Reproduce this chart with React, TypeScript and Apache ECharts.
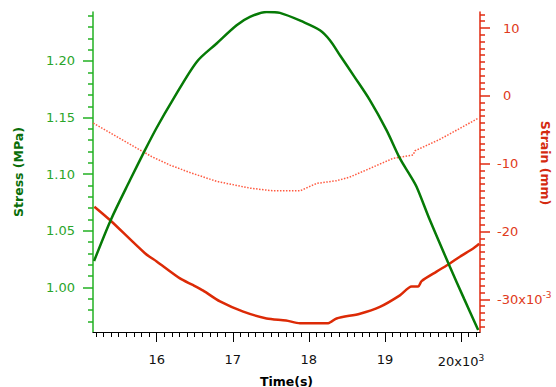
import React, { useEffect, useRef } from 'react';
import * as echarts from 'echarts';

// Stress (green, left axis)
const stressTime = [15177, 15400, 15650, 15846, 16000, 16210, 16526, 16788, 17051, 17226, 17445, 17620, 17926, 18146, 18277, 18409, 18600, 18802, 19021, 19197, 19329, 19416, 19591, 19854, 20040, 20226];
const stressMPa = [1.0232, 1.060, 1.0948, 1.1212, 1.141, 1.1654, 1.1992, 1.2155, 1.2316, 1.239, 1.2434, 1.2425, 1.2345, 1.2272, 1.2184, 1.2051, 1.1860, 1.1654, 1.1389, 1.1139, 1.0992, 1.0888, 1.0594, 1.0182, 0.990, 0.9623];

// Strain solid (red, right axis, x10^-3 mm)
const strainTime = [15181, 15386, 15846, 16000, 16306, 16481, 16612, 16832, 17138, 17445, 17700, 17883, 18255, 18365, 18672, 18934, 19197, 19351, 19438, 19482, 19679, 19854, 19985, 20160, 20239];
const strainMm = [-16.33, -18.3, -23.2, -24.4, -26.9, -27.9, -28.7, -30.3, -31.8, -32.8, -33.1, -33.5, -33.5, -32.8, -32.1, -31.1, -29.4, -28.1, -28.1, -27.3, -25.9, -24.7, -23.7, -22.5, -21.8];

// Strain dotted (light red, right axis, x10^-3 mm)
const strain2Time = [15167, 15934, 16175, 16438, 16788, 17226, 17532, 17883, 18102, 18365, 18531, 18760, 19109, 19372, 19394, 19723, 19985, 20226];
const strain2Mm = [-4.03, -8.95, -10.2, -11.3, -12.6, -13.6, -14.0, -14.0, -12.9, -12.5, -12.0, -10.9, -9.2, -8.7, -8.1, -6.4, -4.8, -3.3];

const timeTicks = [16000, 17000, 18000, 19000, 20000];
const stressTicks = [1.0, 1.05, 1.1, 1.15, 1.2];
const strainTicks = [-30, -20, -10, 0, 10];

const zip = (a: number[], b: number[]) => a.map((v, i) => [v, b[i]]);

const FONT = 'DejaVu Sans';
const GREEN_AX = '#22b022';
const GREEN_LINE = '#067a06';
const GREEN_TITLE = '#0a6e0a';
const RED_AX = '#e02a10';
const RED_LINE = '#dc2a06';

export default function App() {
  const ref = useRef<HTMLDivElement>(null);
  useEffect(() => {
    const chart = echarts.init(ref.current!, null, { renderer: 'svg' });
    chart.setOption({
      animation: false,
      backgroundColor: '#ffffff',
      textStyle: { fontFamily: FONT },
      grid: { left: 93, right: 76, top: 12, bottom: 55, containLabel: false, outerBoundsMode: 'none' },
      xAxis: {
        type: 'value',
        min: 15163,
        max: 20250,
        splitNumber: 5,
        name: 'Time(s)',
        nameLocation: 'middle',
        nameGap: 49,
        nameMoveOverlap: false,
        nameTextStyle: { color: '#000', fontWeight: 'bold', fontSize: 12.5, fontFamily: FONT, align: 'center', verticalAlign: 'middle' },
        axisLine: { show: true, onZero: false, lineStyle: { color: '#000', width: 1 } },
        axisTick: { show: true, inside: false, length: 10, customValues: timeTicks, lineStyle: { color: '#000' } },
        minorTick: { show: true, splitNumber: 10, length: 5, lineStyle: { color: '#000' } },
        splitLine: { show: false },
        axisLabel: {
          customValues: timeTicks,
          margin: 21,
          color: '#111',
          fontSize: 13,
          fontFamily: FONT,
          formatter: (v: number) => (v === 20000 ? '{n|20x10}{sup|3}' : '{n|' + v / 1000 + '}'),
          rich: {
            n: { fontSize: 13, fontFamily: FONT, color: '#111' },
            sup: { fontSize: 9, fontFamily: FONT, color: '#111', padding: [0, 0, 8, 0] },
          },
        },
      },
      yAxis: [
        {
          type: 'value',
          position: 'left',
          min: 0.9605,
          max: 1.2433,
          splitNumber: 5,
          name: 'Stress (MPa)',
          nameLocation: 'middle',
          nameGap: 75,
          nameRotate: 90,
          nameMoveOverlap: false,
          nameTextStyle: { color: GREEN_TITLE, fontWeight: 'bold', fontSize: 12.5, fontFamily: FONT, align: 'center', verticalAlign: 'middle' },
          axisLine: { show: true, onZero: false, lineStyle: { color: GREEN_AX, width: 1.5 } },
          axisTick: { show: true, inside: false, length: 10, customValues: stressTicks, lineStyle: { color: GREEN_AX, width: 1.5 } },
          minorTick: { show: true, splitNumber: 5, length: 5, lineStyle: { color: GREEN_AX, width: 1.5 } },
          splitLine: { show: false },
          axisLabel: {
            customValues: stressTicks,
            margin: 18,
            color: '#2aa52a',
            fontSize: 13,
            fontFamily: FONT,
            formatter: (v: number) => v.toFixed(2),
          },
        },
        {
          type: 'value',
          position: 'right',
          min: -34.8,
          max: 12.36,
          splitNumber: 5,
          name: 'Strain (mm)',
          nameLocation: 'middle',
          nameGap: 65,
          nameRotate: -90,
          nameMoveOverlap: false,
          nameTextStyle: { color: '#d42a10', fontWeight: 'bold', fontSize: 12.5, fontFamily: FONT, align: 'center', verticalAlign: 'middle', padding: [0, 18, 0, 0] },
          axisLine: { show: true, onZero: false, lineStyle: { color: RED_AX, width: 1.5 } },
          axisTick: { show: true, inside: false, length: 10, customValues: strainTicks, lineStyle: { color: RED_AX, width: 1.5 } },
          minorTick: { show: true, splitNumber: 10, length: 5, lineStyle: { color: RED_AX, width: 1.5 } },
          splitLine: { show: false },
          axisLabel: {
            customValues: strainTicks,
            margin: 17,
            color: '#e03a20',
            fontSize: 13,
            fontFamily: FONT,
            formatter: (v: number) =>
              v === -30 ? '{n|-30x10}{sup|-3}' : v < 0 ? '{n|' + v + '}' : '{p|' + v + '}',
            rich: {
              n: { fontSize: 13, fontFamily: FONT, color: '#e03a20' },
              p: { fontSize: 13, fontFamily: FONT, color: '#e03a20', padding: [0, 0, 0, 6] },
              sup: { fontSize: 9, fontFamily: FONT, color: '#e03a20', padding: [0, 0, 8, 0] },
            },
          },
        },
      ],
      series: [
        {
          type: 'line',
          yAxisIndex: 1,
          data: zip(strain2Time, strain2Mm),
          showSymbol: false,
          lineStyle: { color: '#ff5a40', width: 1.5, type: [1.5, 1.5] },
          z: 1,
        },
        {
          type: 'line',
          yAxisIndex: 1,
          data: zip(strainTime, strainMm),
          showSymbol: false,
          smooth: 0.25,
          lineStyle: { color: RED_LINE, width: 2.5 },
          z: 2,
        },
        {
          type: 'line',
          yAxisIndex: 0,
          data: zip(stressTime, stressMPa),
          showSymbol: false,
          smooth: 0.3,
          lineStyle: { color: GREEN_LINE, width: 2.5 },
          z: 3,
        },
      ],
    });
    return () => chart.dispose();
  }, []);
  return (
    <div
      ref={ref}
      style={{ position: 'fixed', left: 0, top: 0, width: 556, height: 387, background: '#fff' }}
    />
  );
}
